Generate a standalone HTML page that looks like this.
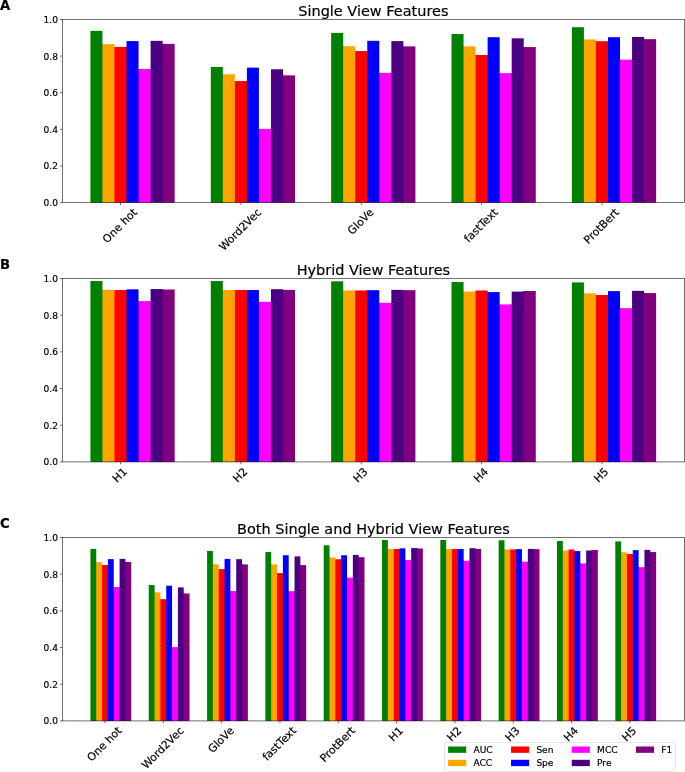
<!DOCTYPE html>
<html><head><meta charset="utf-8"><title>Features</title>
<style>html,body{margin:0;padding:0;background:#fff}svg{display:block;will-change:transform}text{fill:#000;stroke:#000;stroke-width:0.18px}</style>
</head><body>
<svg width="685" height="772" viewBox="0 0 685 772" font-family="'DejaVu Sans','Liberation Sans',sans-serif">
<rect width="685" height="772" fill="#fff"/>
<g>
<rect x="101.16" y="44.15" width="2.00" height="158.45" fill="#008000"/>
<rect x="113.20" y="46.89" width="2.00" height="155.71" fill="#FFA500"/>
<rect x="125.23" y="46.89" width="2.00" height="155.71" fill="#FF0000"/>
<rect x="137.27" y="68.95" width="2.00" height="133.65" fill="#0000FF"/>
<rect x="149.30" y="68.95" width="2.00" height="133.65" fill="#FF00FF"/>
<rect x="161.34" y="43.87" width="2.00" height="158.73" fill="#4B0082"/>
<rect x="221.52" y="74.28" width="2.00" height="128.32" fill="#008000"/>
<rect x="233.56" y="81.08" width="2.00" height="121.52" fill="#FFA500"/>
<rect x="245.59" y="81.08" width="2.00" height="121.52" fill="#FF0000"/>
<rect x="257.63" y="128.92" width="2.00" height="73.68" fill="#0000FF"/>
<rect x="269.67" y="128.92" width="2.00" height="73.68" fill="#FF00FF"/>
<rect x="281.70" y="75.38" width="2.00" height="127.22" fill="#4B0082"/>
<rect x="341.88" y="46.22" width="2.00" height="156.38" fill="#008000"/>
<rect x="353.92" y="51.07" width="2.00" height="151.53" fill="#FFA500"/>
<rect x="365.96" y="51.07" width="2.00" height="151.53" fill="#FF0000"/>
<rect x="377.99" y="72.85" width="2.00" height="129.75" fill="#0000FF"/>
<rect x="390.03" y="72.85" width="2.00" height="129.75" fill="#FF00FF"/>
<rect x="402.07" y="46.36" width="2.00" height="156.24" fill="#4B0082"/>
<rect x="462.25" y="46.36" width="2.00" height="156.24" fill="#008000"/>
<rect x="474.28" y="54.96" width="2.00" height="147.64" fill="#FFA500"/>
<rect x="486.32" y="54.96" width="2.00" height="147.64" fill="#FF0000"/>
<rect x="498.36" y="73.13" width="2.00" height="129.47" fill="#0000FF"/>
<rect x="510.39" y="73.13" width="2.00" height="129.47" fill="#FF00FF"/>
<rect x="522.43" y="47.06" width="2.00" height="155.54" fill="#4B0082"/>
<rect x="582.61" y="39.42" width="2.00" height="163.18" fill="#008000"/>
<rect x="594.65" y="41.21" width="2.00" height="161.39" fill="#FFA500"/>
<rect x="606.68" y="41.21" width="2.00" height="161.39" fill="#FF0000"/>
<rect x="618.72" y="59.67" width="2.00" height="142.93" fill="#0000FF"/>
<rect x="630.75" y="59.67" width="2.00" height="142.93" fill="#FF00FF"/>
<rect x="642.79" y="39.14" width="2.00" height="163.46" fill="#4B0082"/>
<rect x="90.42" y="30.82" width="12.04" height="171.78" fill="#008000"/>
<rect x="102.46" y="44.15" width="12.04" height="158.45" fill="#FFA500"/>
<rect x="114.50" y="46.89" width="12.04" height="155.71" fill="#FF0000"/>
<rect x="126.53" y="41.08" width="12.04" height="161.52" fill="#0000FF"/>
<rect x="138.57" y="68.95" width="12.04" height="133.65" fill="#FF00FF"/>
<rect x="150.60" y="40.85" width="12.04" height="161.75" fill="#4B0082"/>
<rect x="162.64" y="43.87" width="12.04" height="158.73" fill="#800080"/>
<rect x="210.79" y="66.93" width="12.04" height="135.67" fill="#008000"/>
<rect x="222.82" y="74.28" width="12.04" height="128.32" fill="#FFA500"/>
<rect x="234.86" y="81.08" width="12.04" height="121.52" fill="#FF0000"/>
<rect x="246.89" y="67.63" width="12.04" height="134.97" fill="#0000FF"/>
<rect x="258.93" y="128.92" width="12.04" height="73.68" fill="#FF00FF"/>
<rect x="270.97" y="69.29" width="12.04" height="133.31" fill="#4B0082"/>
<rect x="283.00" y="75.38" width="12.04" height="127.22" fill="#800080"/>
<rect x="331.15" y="32.91" width="12.04" height="169.69" fill="#008000"/>
<rect x="343.18" y="46.22" width="12.04" height="156.38" fill="#FFA500"/>
<rect x="355.22" y="51.07" width="12.04" height="151.53" fill="#FF0000"/>
<rect x="367.26" y="40.81" width="12.04" height="161.79" fill="#0000FF"/>
<rect x="379.29" y="72.85" width="12.04" height="129.75" fill="#FF00FF"/>
<rect x="391.33" y="41.08" width="12.04" height="161.52" fill="#4B0082"/>
<rect x="403.37" y="46.36" width="12.04" height="156.24" fill="#800080"/>
<rect x="451.51" y="34.01" width="12.04" height="168.59" fill="#008000"/>
<rect x="463.55" y="46.36" width="12.04" height="156.24" fill="#FFA500"/>
<rect x="475.58" y="54.96" width="12.04" height="147.64" fill="#FF0000"/>
<rect x="487.62" y="37.20" width="12.04" height="165.40" fill="#0000FF"/>
<rect x="499.66" y="73.13" width="12.04" height="129.47" fill="#FF00FF"/>
<rect x="511.69" y="38.32" width="12.04" height="164.28" fill="#4B0082"/>
<rect x="523.73" y="47.06" width="12.04" height="155.54" fill="#800080"/>
<rect x="571.87" y="27.21" width="12.04" height="175.39" fill="#008000"/>
<rect x="583.91" y="39.42" width="12.04" height="163.18" fill="#FFA500"/>
<rect x="595.95" y="41.21" width="12.04" height="161.39" fill="#FF0000"/>
<rect x="607.98" y="37.20" width="12.04" height="165.40" fill="#0000FF"/>
<rect x="620.02" y="59.67" width="12.04" height="142.93" fill="#FF00FF"/>
<rect x="632.05" y="36.92" width="12.04" height="165.68" fill="#4B0082"/>
<rect x="644.09" y="39.14" width="12.04" height="163.46" fill="#800080"/>
<line x1="60.00" x2="62.40" y1="202.60" y2="202.60" stroke="#000" stroke-opacity="0.7" stroke-width="0.800"/>
<text x="57.90" y="206.05" font-size="9.05" text-anchor="end">0.0</text>
<line x1="60.00" x2="62.40" y1="165.96" y2="165.96" stroke="#000" stroke-opacity="0.7" stroke-width="0.800"/>
<text x="57.90" y="169.41" font-size="9.05" text-anchor="end">0.2</text>
<line x1="60.00" x2="62.40" y1="129.33" y2="129.33" stroke="#000" stroke-opacity="0.7" stroke-width="0.800"/>
<text x="57.90" y="132.78" font-size="9.05" text-anchor="end">0.4</text>
<line x1="60.00" x2="62.40" y1="92.69" y2="92.69" stroke="#000" stroke-opacity="0.7" stroke-width="0.800"/>
<text x="57.90" y="96.14" font-size="9.05" text-anchor="end">0.6</text>
<line x1="60.00" x2="62.40" y1="56.06" y2="56.06" stroke="#000" stroke-opacity="0.7" stroke-width="0.800"/>
<text x="57.90" y="59.51" font-size="9.05" text-anchor="end">0.8</text>
<line x1="60.00" x2="62.40" y1="19.42" y2="19.42" stroke="#000" stroke-opacity="0.7" stroke-width="0.800"/>
<text x="57.90" y="22.87" font-size="9.05" text-anchor="end">1.0</text>
<line x1="120.51" x2="120.51" y1="202.60" y2="205.00" stroke="#000" stroke-opacity="0.7" stroke-width="0.800"/>
<text transform="translate(120.31,226.25) rotate(-45)" y="2.99" font-size="10.86" text-anchor="middle">One hot</text>
<line x1="240.88" x2="240.88" y1="202.60" y2="205.00" stroke="#000" stroke-opacity="0.7" stroke-width="0.800"/>
<text transform="translate(240.68,230.04) rotate(-45)" y="2.99" font-size="10.86" text-anchor="middle">Word2Vec</text>
<line x1="361.24" x2="361.24" y1="202.60" y2="205.00" stroke="#000" stroke-opacity="0.7" stroke-width="0.800"/>
<text transform="translate(361.04,222.01) rotate(-45)" y="2.99" font-size="10.86" text-anchor="middle">GloVe</text>
<line x1="481.60" x2="481.60" y1="202.60" y2="205.00" stroke="#000" stroke-opacity="0.7" stroke-width="0.800"/>
<text transform="translate(481.40,225.90) rotate(-45)" y="2.99" font-size="10.86" text-anchor="middle">fastText</text>
<line x1="601.96" x2="601.96" y1="202.60" y2="205.00" stroke="#000" stroke-opacity="0.7" stroke-width="0.800"/>
<text transform="translate(601.76,226.60) rotate(-45)" y="2.99" font-size="10.86" text-anchor="middle">ProtBert</text>
<rect x="62.40" y="19.42" width="622.00" height="183.18" fill="none" stroke="#000" stroke-opacity="0.7" stroke-width="0.800"/>
<text x="373.40" y="15.55" font-size="14.48" text-anchor="middle">Single View Features</text>
<text x="0" y="9.70" font-size="13.20" font-weight="bold">A</text>
</g>
<g>
<rect x="101.16" y="289.89" width="2.00" height="172.01" fill="#008000"/>
<rect x="113.20" y="290.03" width="2.00" height="171.87" fill="#FFA500"/>
<rect x="125.23" y="290.03" width="2.00" height="171.87" fill="#FF0000"/>
<rect x="137.27" y="301.12" width="2.00" height="160.78" fill="#0000FF"/>
<rect x="149.30" y="301.12" width="2.00" height="160.78" fill="#FF00FF"/>
<rect x="161.34" y="289.48" width="2.00" height="172.42" fill="#4B0082"/>
<rect x="221.52" y="290.03" width="2.00" height="171.87" fill="#008000"/>
<rect x="233.56" y="290.03" width="2.00" height="171.87" fill="#FFA500"/>
<rect x="245.59" y="290.03" width="2.00" height="171.87" fill="#FF0000"/>
<rect x="257.63" y="301.82" width="2.00" height="160.08" fill="#0000FF"/>
<rect x="269.67" y="301.82" width="2.00" height="160.08" fill="#FF00FF"/>
<rect x="281.70" y="289.89" width="2.00" height="172.01" fill="#4B0082"/>
<rect x="341.88" y="290.46" width="2.00" height="171.44" fill="#008000"/>
<rect x="353.92" y="290.46" width="2.00" height="171.44" fill="#FFA500"/>
<rect x="365.96" y="290.46" width="2.00" height="171.44" fill="#FF0000"/>
<rect x="377.99" y="302.79" width="2.00" height="159.11" fill="#0000FF"/>
<rect x="390.03" y="302.79" width="2.00" height="159.11" fill="#FF00FF"/>
<rect x="402.07" y="290.16" width="2.00" height="171.74" fill="#4B0082"/>
<rect x="462.25" y="291.56" width="2.00" height="170.34" fill="#008000"/>
<rect x="474.28" y="291.56" width="2.00" height="170.34" fill="#FFA500"/>
<rect x="486.32" y="292.11" width="2.00" height="169.79" fill="#FF0000"/>
<rect x="498.36" y="304.44" width="2.00" height="157.46" fill="#0000FF"/>
<rect x="510.39" y="304.44" width="2.00" height="157.46" fill="#FF00FF"/>
<rect x="522.43" y="291.56" width="2.00" height="170.34" fill="#4B0082"/>
<rect x="582.61" y="293.35" width="2.00" height="168.55" fill="#008000"/>
<rect x="594.65" y="295.02" width="2.00" height="166.88" fill="#FFA500"/>
<rect x="606.68" y="295.02" width="2.00" height="166.88" fill="#FF0000"/>
<rect x="618.72" y="308.20" width="2.00" height="153.70" fill="#0000FF"/>
<rect x="630.75" y="308.20" width="2.00" height="153.70" fill="#FF00FF"/>
<rect x="642.79" y="293.08" width="2.00" height="168.82" fill="#4B0082"/>
<rect x="90.42" y="281.02" width="12.04" height="180.88" fill="#008000"/>
<rect x="102.46" y="289.89" width="12.04" height="172.01" fill="#FFA500"/>
<rect x="114.50" y="290.03" width="12.04" height="171.87" fill="#FF0000"/>
<rect x="126.53" y="289.34" width="12.04" height="172.56" fill="#0000FF"/>
<rect x="138.57" y="301.12" width="12.04" height="160.78" fill="#FF00FF"/>
<rect x="150.60" y="289.06" width="12.04" height="172.84" fill="#4B0082"/>
<rect x="162.64" y="289.48" width="12.04" height="172.42" fill="#800080"/>
<rect x="210.79" y="281.02" width="12.04" height="180.88" fill="#008000"/>
<rect x="222.82" y="290.03" width="12.04" height="171.87" fill="#FFA500"/>
<rect x="234.86" y="290.03" width="12.04" height="171.87" fill="#FF0000"/>
<rect x="246.89" y="290.03" width="12.04" height="171.87" fill="#0000FF"/>
<rect x="258.93" y="301.82" width="12.04" height="160.08" fill="#FF00FF"/>
<rect x="270.97" y="289.19" width="12.04" height="172.71" fill="#4B0082"/>
<rect x="283.00" y="289.89" width="12.04" height="172.01" fill="#800080"/>
<rect x="331.15" y="281.29" width="12.04" height="180.61" fill="#008000"/>
<rect x="343.18" y="290.46" width="12.04" height="171.44" fill="#FFA500"/>
<rect x="355.22" y="290.46" width="12.04" height="171.44" fill="#FF0000"/>
<rect x="367.26" y="290.16" width="12.04" height="171.74" fill="#0000FF"/>
<rect x="379.29" y="302.79" width="12.04" height="159.11" fill="#FF00FF"/>
<rect x="391.33" y="289.89" width="12.04" height="172.01" fill="#4B0082"/>
<rect x="403.37" y="290.16" width="12.04" height="171.74" fill="#800080"/>
<rect x="451.51" y="281.99" width="12.04" height="179.91" fill="#008000"/>
<rect x="463.55" y="291.56" width="12.04" height="170.34" fill="#FFA500"/>
<rect x="475.58" y="290.46" width="12.04" height="171.44" fill="#FF0000"/>
<rect x="487.62" y="292.11" width="12.04" height="169.79" fill="#0000FF"/>
<rect x="499.66" y="304.44" width="12.04" height="157.46" fill="#FF00FF"/>
<rect x="511.69" y="291.56" width="12.04" height="170.34" fill="#4B0082"/>
<rect x="523.73" y="291.01" width="12.04" height="170.89" fill="#800080"/>
<rect x="571.87" y="282.41" width="12.04" height="179.49" fill="#008000"/>
<rect x="583.91" y="293.35" width="12.04" height="168.55" fill="#FFA500"/>
<rect x="595.95" y="295.02" width="12.04" height="166.88" fill="#FF0000"/>
<rect x="607.98" y="291.13" width="12.04" height="170.77" fill="#0000FF"/>
<rect x="620.02" y="308.20" width="12.04" height="153.70" fill="#FF00FF"/>
<rect x="632.05" y="290.86" width="12.04" height="171.04" fill="#4B0082"/>
<rect x="644.09" y="293.08" width="12.04" height="168.82" fill="#800080"/>
<line x1="60.00" x2="62.40" y1="461.90" y2="461.90" stroke="#000" stroke-opacity="0.7" stroke-width="0.800"/>
<text x="57.90" y="465.35" font-size="9.05" text-anchor="end">0.0</text>
<line x1="60.00" x2="62.40" y1="425.21" y2="425.21" stroke="#000" stroke-opacity="0.7" stroke-width="0.800"/>
<text x="57.90" y="428.66" font-size="9.05" text-anchor="end">0.2</text>
<line x1="60.00" x2="62.40" y1="388.52" y2="388.52" stroke="#000" stroke-opacity="0.7" stroke-width="0.800"/>
<text x="57.90" y="391.97" font-size="9.05" text-anchor="end">0.4</text>
<line x1="60.00" x2="62.40" y1="351.83" y2="351.83" stroke="#000" stroke-opacity="0.7" stroke-width="0.800"/>
<text x="57.90" y="355.28" font-size="9.05" text-anchor="end">0.6</text>
<line x1="60.00" x2="62.40" y1="315.14" y2="315.14" stroke="#000" stroke-opacity="0.7" stroke-width="0.800"/>
<text x="57.90" y="318.59" font-size="9.05" text-anchor="end">0.8</text>
<line x1="60.00" x2="62.40" y1="278.45" y2="278.45" stroke="#000" stroke-opacity="0.7" stroke-width="0.800"/>
<text x="57.90" y="281.90" font-size="9.05" text-anchor="end">1.0</text>
<line x1="120.51" x2="120.51" y1="461.90" y2="464.30" stroke="#000" stroke-opacity="0.7" stroke-width="0.800"/>
<text transform="translate(120.31,475.55) rotate(-45)" y="2.99" font-size="10.86" text-anchor="middle">H1</text>
<line x1="240.88" x2="240.88" y1="461.90" y2="464.30" stroke="#000" stroke-opacity="0.7" stroke-width="0.800"/>
<text transform="translate(240.68,475.55) rotate(-45)" y="2.99" font-size="10.86" text-anchor="middle">H2</text>
<line x1="361.24" x2="361.24" y1="461.90" y2="464.30" stroke="#000" stroke-opacity="0.7" stroke-width="0.800"/>
<text transform="translate(361.04,475.55) rotate(-45)" y="2.99" font-size="10.86" text-anchor="middle">H3</text>
<line x1="481.60" x2="481.60" y1="461.90" y2="464.30" stroke="#000" stroke-opacity="0.7" stroke-width="0.800"/>
<text transform="translate(481.40,475.55) rotate(-45)" y="2.99" font-size="10.86" text-anchor="middle">H4</text>
<line x1="601.96" x2="601.96" y1="461.90" y2="464.30" stroke="#000" stroke-opacity="0.7" stroke-width="0.800"/>
<text transform="translate(601.76,475.55) rotate(-45)" y="2.99" font-size="10.86" text-anchor="middle">H5</text>
<rect x="62.40" y="278.45" width="622.00" height="183.45" fill="none" stroke="#000" stroke-opacity="0.7" stroke-width="0.800"/>
<text x="373.40" y="274.85" font-size="14.48" text-anchor="middle">Hybrid View Features</text>
<text x="0" y="269.00" font-size="13.20" font-weight="bold">B</text>
</g>
<g>
<rect x="94.95" y="562.21" width="2.00" height="158.69" fill="#008000"/>
<rect x="100.79" y="564.97" width="2.00" height="155.93" fill="#FFA500"/>
<rect x="106.62" y="564.97" width="2.00" height="155.93" fill="#FF0000"/>
<rect x="112.45" y="587.05" width="2.00" height="133.85" fill="#0000FF"/>
<rect x="118.28" y="587.05" width="2.00" height="133.85" fill="#FF00FF"/>
<rect x="124.11" y="561.94" width="2.00" height="158.96" fill="#4B0082"/>
<rect x="153.27" y="592.39" width="2.00" height="128.51" fill="#008000"/>
<rect x="159.11" y="599.20" width="2.00" height="121.70" fill="#FFA500"/>
<rect x="164.94" y="599.20" width="2.00" height="121.70" fill="#FF0000"/>
<rect x="170.77" y="647.11" width="2.00" height="73.79" fill="#0000FF"/>
<rect x="176.60" y="647.11" width="2.00" height="73.79" fill="#FF00FF"/>
<rect x="182.43" y="593.49" width="2.00" height="127.41" fill="#4B0082"/>
<rect x="211.59" y="564.29" width="2.00" height="156.61" fill="#008000"/>
<rect x="217.43" y="569.15" width="2.00" height="151.75" fill="#FFA500"/>
<rect x="223.26" y="569.15" width="2.00" height="151.75" fill="#FF0000"/>
<rect x="229.09" y="590.96" width="2.00" height="129.94" fill="#0000FF"/>
<rect x="234.92" y="590.96" width="2.00" height="129.94" fill="#FF00FF"/>
<rect x="240.75" y="564.43" width="2.00" height="156.47" fill="#4B0082"/>
<rect x="269.91" y="564.43" width="2.00" height="156.47" fill="#008000"/>
<rect x="275.75" y="573.04" width="2.00" height="147.86" fill="#FFA500"/>
<rect x="281.58" y="573.04" width="2.00" height="147.86" fill="#FF0000"/>
<rect x="287.41" y="591.23" width="2.00" height="129.67" fill="#0000FF"/>
<rect x="293.24" y="591.23" width="2.00" height="129.67" fill="#FF00FF"/>
<rect x="299.07" y="565.13" width="2.00" height="155.77" fill="#4B0082"/>
<rect x="328.23" y="557.48" width="2.00" height="163.42" fill="#008000"/>
<rect x="334.07" y="559.27" width="2.00" height="161.63" fill="#FFA500"/>
<rect x="339.90" y="559.27" width="2.00" height="161.63" fill="#FF0000"/>
<rect x="345.73" y="577.76" width="2.00" height="143.14" fill="#0000FF"/>
<rect x="351.56" y="577.76" width="2.00" height="143.14" fill="#FF00FF"/>
<rect x="357.39" y="557.20" width="2.00" height="163.70" fill="#4B0082"/>
<rect x="386.56" y="548.89" width="2.00" height="172.01" fill="#008000"/>
<rect x="392.39" y="549.03" width="2.00" height="171.87" fill="#FFA500"/>
<rect x="398.22" y="549.03" width="2.00" height="171.87" fill="#FF0000"/>
<rect x="404.05" y="560.12" width="2.00" height="160.78" fill="#0000FF"/>
<rect x="409.88" y="560.12" width="2.00" height="160.78" fill="#FF00FF"/>
<rect x="415.72" y="548.48" width="2.00" height="172.42" fill="#4B0082"/>
<rect x="444.88" y="549.03" width="2.00" height="171.87" fill="#008000"/>
<rect x="450.71" y="549.03" width="2.00" height="171.87" fill="#FFA500"/>
<rect x="456.54" y="549.03" width="2.00" height="171.87" fill="#FF0000"/>
<rect x="462.37" y="560.82" width="2.00" height="160.08" fill="#0000FF"/>
<rect x="468.20" y="560.82" width="2.00" height="160.08" fill="#FF00FF"/>
<rect x="474.04" y="548.89" width="2.00" height="172.01" fill="#4B0082"/>
<rect x="503.20" y="549.46" width="2.00" height="171.44" fill="#008000"/>
<rect x="509.03" y="549.46" width="2.00" height="171.44" fill="#FFA500"/>
<rect x="514.86" y="549.46" width="2.00" height="171.44" fill="#FF0000"/>
<rect x="520.69" y="561.79" width="2.00" height="159.11" fill="#0000FF"/>
<rect x="526.52" y="561.79" width="2.00" height="159.11" fill="#FF00FF"/>
<rect x="532.36" y="549.16" width="2.00" height="171.74" fill="#4B0082"/>
<rect x="561.52" y="550.56" width="2.00" height="170.34" fill="#008000"/>
<rect x="567.35" y="550.56" width="2.00" height="170.34" fill="#FFA500"/>
<rect x="573.18" y="551.11" width="2.00" height="169.79" fill="#FF0000"/>
<rect x="579.01" y="563.44" width="2.00" height="157.46" fill="#0000FF"/>
<rect x="584.84" y="563.44" width="2.00" height="157.46" fill="#FF00FF"/>
<rect x="590.68" y="550.56" width="2.00" height="170.34" fill="#4B0082"/>
<rect x="619.84" y="552.35" width="2.00" height="168.55" fill="#008000"/>
<rect x="625.67" y="554.02" width="2.00" height="166.88" fill="#FFA500"/>
<rect x="631.50" y="554.02" width="2.00" height="166.88" fill="#FF0000"/>
<rect x="637.33" y="567.20" width="2.00" height="153.70" fill="#0000FF"/>
<rect x="643.16" y="567.20" width="2.00" height="153.70" fill="#FF00FF"/>
<rect x="649.00" y="552.08" width="2.00" height="168.82" fill="#4B0082"/>
<rect x="90.42" y="548.87" width="5.83" height="172.03" fill="#008000"/>
<rect x="96.25" y="562.21" width="5.83" height="158.69" fill="#FFA500"/>
<rect x="102.09" y="564.97" width="5.83" height="155.93" fill="#FF0000"/>
<rect x="107.92" y="559.15" width="5.83" height="161.75" fill="#0000FF"/>
<rect x="113.75" y="587.05" width="5.83" height="133.85" fill="#FF00FF"/>
<rect x="119.58" y="558.91" width="5.83" height="161.99" fill="#4B0082"/>
<rect x="125.41" y="561.94" width="5.83" height="158.96" fill="#800080"/>
<rect x="148.74" y="585.03" width="5.83" height="135.87" fill="#008000"/>
<rect x="154.57" y="592.39" width="5.83" height="128.51" fill="#FFA500"/>
<rect x="160.41" y="599.20" width="5.83" height="121.70" fill="#FF0000"/>
<rect x="166.24" y="585.73" width="5.83" height="135.17" fill="#0000FF"/>
<rect x="172.07" y="647.11" width="5.83" height="73.79" fill="#FF00FF"/>
<rect x="177.90" y="587.40" width="5.83" height="133.50" fill="#4B0082"/>
<rect x="183.73" y="593.49" width="5.83" height="127.41" fill="#800080"/>
<rect x="207.06" y="550.96" width="5.83" height="169.94" fill="#008000"/>
<rect x="212.89" y="564.29" width="5.83" height="156.61" fill="#FFA500"/>
<rect x="218.73" y="569.15" width="5.83" height="151.75" fill="#FF0000"/>
<rect x="224.56" y="558.87" width="5.83" height="162.03" fill="#0000FF"/>
<rect x="230.39" y="590.96" width="5.83" height="129.94" fill="#FF00FF"/>
<rect x="236.22" y="559.15" width="5.83" height="161.75" fill="#4B0082"/>
<rect x="242.05" y="564.43" width="5.83" height="156.47" fill="#800080"/>
<rect x="265.38" y="552.06" width="5.83" height="168.84" fill="#008000"/>
<rect x="271.21" y="564.43" width="5.83" height="156.47" fill="#FFA500"/>
<rect x="277.05" y="573.04" width="5.83" height="147.86" fill="#FF0000"/>
<rect x="282.88" y="555.25" width="5.83" height="165.65" fill="#0000FF"/>
<rect x="288.71" y="591.23" width="5.83" height="129.67" fill="#FF00FF"/>
<rect x="294.54" y="556.37" width="5.83" height="164.53" fill="#4B0082"/>
<rect x="300.37" y="565.13" width="5.83" height="155.77" fill="#800080"/>
<rect x="323.70" y="545.25" width="5.83" height="175.65" fill="#008000"/>
<rect x="329.53" y="557.48" width="5.83" height="163.42" fill="#FFA500"/>
<rect x="335.37" y="559.27" width="5.83" height="161.63" fill="#FF0000"/>
<rect x="341.20" y="555.25" width="5.83" height="165.65" fill="#0000FF"/>
<rect x="347.03" y="577.76" width="5.83" height="143.14" fill="#FF00FF"/>
<rect x="352.86" y="554.98" width="5.83" height="165.92" fill="#4B0082"/>
<rect x="358.69" y="557.20" width="5.83" height="163.70" fill="#800080"/>
<rect x="382.02" y="540.02" width="5.83" height="180.88" fill="#008000"/>
<rect x="387.86" y="548.89" width="5.83" height="172.01" fill="#FFA500"/>
<rect x="393.69" y="549.03" width="5.83" height="171.87" fill="#FF0000"/>
<rect x="399.52" y="548.34" width="5.83" height="172.56" fill="#0000FF"/>
<rect x="405.35" y="560.12" width="5.83" height="160.78" fill="#FF00FF"/>
<rect x="411.18" y="548.06" width="5.83" height="172.84" fill="#4B0082"/>
<rect x="417.02" y="548.48" width="5.83" height="172.42" fill="#800080"/>
<rect x="440.34" y="540.02" width="5.83" height="180.88" fill="#008000"/>
<rect x="446.18" y="549.03" width="5.83" height="171.87" fill="#FFA500"/>
<rect x="452.01" y="549.03" width="5.83" height="171.87" fill="#FF0000"/>
<rect x="457.84" y="549.03" width="5.83" height="171.87" fill="#0000FF"/>
<rect x="463.67" y="560.82" width="5.83" height="160.08" fill="#FF00FF"/>
<rect x="469.50" y="548.19" width="5.83" height="172.71" fill="#4B0082"/>
<rect x="475.34" y="548.89" width="5.83" height="172.01" fill="#800080"/>
<rect x="498.66" y="540.29" width="5.83" height="180.61" fill="#008000"/>
<rect x="504.50" y="549.46" width="5.83" height="171.44" fill="#FFA500"/>
<rect x="510.33" y="549.46" width="5.83" height="171.44" fill="#FF0000"/>
<rect x="516.16" y="549.16" width="5.83" height="171.74" fill="#0000FF"/>
<rect x="521.99" y="561.79" width="5.83" height="159.11" fill="#FF00FF"/>
<rect x="527.82" y="548.89" width="5.83" height="172.01" fill="#4B0082"/>
<rect x="533.66" y="549.16" width="5.83" height="171.74" fill="#800080"/>
<rect x="556.98" y="540.99" width="5.83" height="179.91" fill="#008000"/>
<rect x="562.82" y="550.56" width="5.83" height="170.34" fill="#FFA500"/>
<rect x="568.65" y="549.46" width="5.83" height="171.44" fill="#FF0000"/>
<rect x="574.48" y="551.11" width="5.83" height="169.79" fill="#0000FF"/>
<rect x="580.31" y="563.44" width="5.83" height="157.46" fill="#FF00FF"/>
<rect x="586.14" y="550.56" width="5.83" height="170.34" fill="#4B0082"/>
<rect x="591.98" y="550.01" width="5.83" height="170.89" fill="#800080"/>
<rect x="615.30" y="541.41" width="5.83" height="179.49" fill="#008000"/>
<rect x="621.14" y="552.35" width="5.83" height="168.55" fill="#FFA500"/>
<rect x="626.97" y="554.02" width="5.83" height="166.88" fill="#FF0000"/>
<rect x="632.80" y="550.13" width="5.83" height="170.77" fill="#0000FF"/>
<rect x="638.63" y="567.20" width="5.83" height="153.70" fill="#FF00FF"/>
<rect x="644.46" y="549.86" width="5.83" height="171.04" fill="#4B0082"/>
<rect x="650.30" y="552.08" width="5.83" height="168.82" fill="#800080"/>
<line x1="60.00" x2="62.40" y1="720.90" y2="720.90" stroke="#000" stroke-opacity="0.7" stroke-width="0.800"/>
<text x="57.90" y="724.35" font-size="9.05" text-anchor="end">0.0</text>
<line x1="60.00" x2="62.40" y1="684.21" y2="684.21" stroke="#000" stroke-opacity="0.7" stroke-width="0.800"/>
<text x="57.90" y="687.66" font-size="9.05" text-anchor="end">0.2</text>
<line x1="60.00" x2="62.40" y1="647.52" y2="647.52" stroke="#000" stroke-opacity="0.7" stroke-width="0.800"/>
<text x="57.90" y="650.97" font-size="9.05" text-anchor="end">0.4</text>
<line x1="60.00" x2="62.40" y1="610.83" y2="610.83" stroke="#000" stroke-opacity="0.7" stroke-width="0.800"/>
<text x="57.90" y="614.28" font-size="9.05" text-anchor="end">0.6</text>
<line x1="60.00" x2="62.40" y1="574.14" y2="574.14" stroke="#000" stroke-opacity="0.7" stroke-width="0.800"/>
<text x="57.90" y="577.59" font-size="9.05" text-anchor="end">0.8</text>
<line x1="60.00" x2="62.40" y1="537.45" y2="537.45" stroke="#000" stroke-opacity="0.7" stroke-width="0.800"/>
<text x="57.90" y="540.90" font-size="9.05" text-anchor="end">1.0</text>
<line x1="105.00" x2="105.00" y1="720.90" y2="723.30" stroke="#000" stroke-opacity="0.7" stroke-width="0.800"/>
<text transform="translate(104.80,744.55) rotate(-45)" y="2.99" font-size="10.86" text-anchor="middle">One hot</text>
<line x1="163.32" x2="163.32" y1="720.90" y2="723.30" stroke="#000" stroke-opacity="0.7" stroke-width="0.800"/>
<text transform="translate(163.12,748.34) rotate(-45)" y="2.99" font-size="10.86" text-anchor="middle">Word2Vec</text>
<line x1="221.64" x2="221.64" y1="720.90" y2="723.30" stroke="#000" stroke-opacity="0.7" stroke-width="0.800"/>
<text transform="translate(221.44,740.31) rotate(-45)" y="2.99" font-size="10.86" text-anchor="middle">GloVe</text>
<line x1="279.96" x2="279.96" y1="720.90" y2="723.30" stroke="#000" stroke-opacity="0.7" stroke-width="0.800"/>
<text transform="translate(279.76,744.20) rotate(-45)" y="2.99" font-size="10.86" text-anchor="middle">fastText</text>
<line x1="338.28" x2="338.28" y1="720.90" y2="723.30" stroke="#000" stroke-opacity="0.7" stroke-width="0.800"/>
<text transform="translate(338.08,744.90) rotate(-45)" y="2.99" font-size="10.86" text-anchor="middle">ProtBert</text>
<line x1="396.60" x2="396.60" y1="720.90" y2="723.30" stroke="#000" stroke-opacity="0.7" stroke-width="0.800"/>
<text transform="translate(396.40,734.55) rotate(-45)" y="2.99" font-size="10.86" text-anchor="middle">H1</text>
<line x1="454.92" x2="454.92" y1="720.90" y2="723.30" stroke="#000" stroke-opacity="0.7" stroke-width="0.800"/>
<text transform="translate(454.72,734.55) rotate(-45)" y="2.99" font-size="10.86" text-anchor="middle">H2</text>
<line x1="513.24" x2="513.24" y1="720.90" y2="723.30" stroke="#000" stroke-opacity="0.7" stroke-width="0.800"/>
<text transform="translate(513.04,734.55) rotate(-45)" y="2.99" font-size="10.86" text-anchor="middle">H3</text>
<line x1="571.56" x2="571.56" y1="720.90" y2="723.30" stroke="#000" stroke-opacity="0.7" stroke-width="0.800"/>
<text transform="translate(571.36,734.55) rotate(-45)" y="2.99" font-size="10.86" text-anchor="middle">H4</text>
<line x1="629.88" x2="629.88" y1="720.90" y2="723.30" stroke="#000" stroke-opacity="0.7" stroke-width="0.800"/>
<text transform="translate(629.68,734.55) rotate(-45)" y="2.99" font-size="10.86" text-anchor="middle">H5</text>
<rect x="62.40" y="537.45" width="622.00" height="183.45" fill="none" stroke="#000" stroke-opacity="0.7" stroke-width="0.800"/>
<text x="373.40" y="533.85" font-size="14.48" text-anchor="middle">Both Single and Hybrid View Features</text>
<text x="0" y="528.10" font-size="13.20" font-weight="bold">C</text>
</g>
<rect x="444.5" y="742.45" width="230.80" height="28.85" rx="1.8" fill="#fff" fill-opacity="0.8" stroke="#ccc" stroke-opacity="0.8" stroke-width="0.7"/>
<rect x="448.12" y="746.50" width="18.10" height="6.33" fill="#008000"/>
<text x="473.46" y="752.79" font-size="9.05">AUC</text>
<rect x="448.12" y="759.80" width="18.10" height="6.33" fill="#FFA500"/>
<text x="473.46" y="766.09" font-size="9.05">ACC</text>
<rect x="511.04" y="746.50" width="18.10" height="6.33" fill="#FF0000"/>
<text x="536.38" y="752.79" font-size="9.05">Sen</text>
<rect x="511.04" y="759.80" width="18.10" height="6.33" fill="#0000FF"/>
<text x="536.38" y="766.09" font-size="9.05">Spe</text>
<rect x="571.74" y="746.50" width="18.10" height="6.33" fill="#FF00FF"/>
<text x="597.08" y="752.79" font-size="9.05">MCC</text>
<rect x="571.74" y="759.80" width="18.10" height="6.33" fill="#4B0082"/>
<text x="597.08" y="766.09" font-size="9.05">Pre</text>
<rect x="635.98" y="746.50" width="18.10" height="6.33" fill="#800080"/>
<text x="661.32" y="752.79" font-size="9.05">F1</text>
</svg>
</body></html>
